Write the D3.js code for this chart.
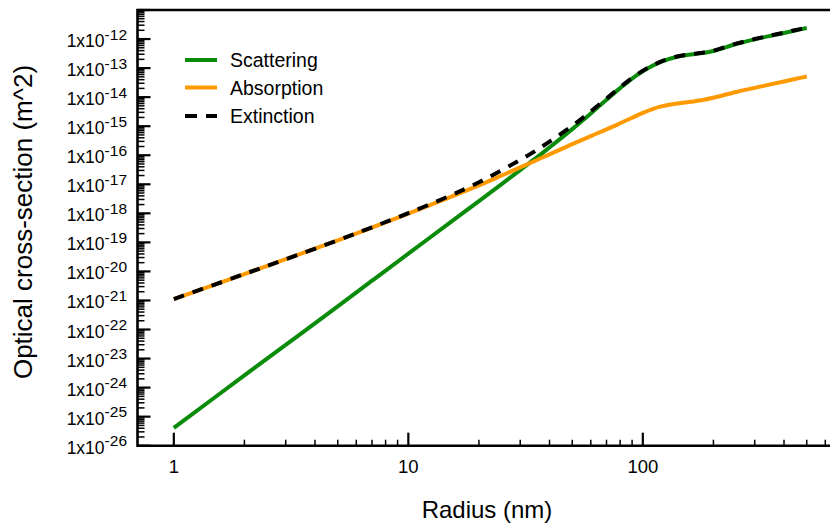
<!DOCTYPE html>
<html>
<head>
<meta charset="utf-8">
<script src="https://cdn.jsdelivr.net/npm/d3@7"></script>
<style>
  body { margin: 0; background: #fff; }
  svg { display: block; font-family: "Liberation Sans", Arial, Helvetica, sans-serif; }
</style>
</head>
<body>
<svg id="chart" width="830" height="528"></svg>
<script>
// radius (nm) and cross-sections (m^2)
const radius = [1, 2, 3, 5, 7, 10, 15, 20, 25, 30, 35, 40, 50, 60, 70, 80, 90, 100,
  110, 120, 140, 160, 180, 200, 250, 300, 350, 400, 450, 500];
const scattering = [4.1e-26, 2.63e-24, 2.95e-23, 6.31e-22, 4.79e-21, 4.07e-20, 4.68e-19, 2.63e-18,
  1.02e-17, 3.09e-17, 7.94e-17, 1.86e-16, 7.94e-16, 2.75e-15, 8.13e-15, 2.04e-14, 4.37e-14, 7.76e-14,
  1.2e-13, 1.66e-13, 2.45e-13, 2.95e-13, 3.31e-13, 3.89e-13, 6.76e-13, 9.77e-13, 1.29e-12,
  1.62e-12, 2.0e-12, 2.4e-12];
const absorption = [1.12e-21, 8.13e-21, 2.63e-20, 1.17e-19, 3.24e-19, 9.77e-19, 3.55e-18, 9.12e-18,
  2.0e-17, 3.8e-17, 6.61e-17, 1.07e-16, 2.4e-16, 4.57e-16, 7.76e-16, 1.26e-15, 1.95e-15, 2.88e-15,
  3.89e-15, 4.79e-15, 6.03e-15, 6.92e-15, 7.94e-15, 9.55e-15, 1.51e-14, 2.09e-14, 2.75e-14,
  3.47e-14, 4.27e-14, 5.13e-14];
const extinction = [1.12e-21, 8.13e-21, 2.63e-20, 1.17e-19, 3.31e-19, 1.02e-18, 3.98e-18, 1.17e-17,
  3.02e-17, 6.92e-17, 1.45e-16, 2.95e-16, 1.02e-15, 3.24e-15, 8.91e-15, 2.19e-14, 4.57e-14, 8.13e-14,
  1.23e-13, 1.7e-13, 2.51e-13, 3.02e-13, 3.39e-13, 3.98e-13, 6.92e-13, 1.0e-12, 1.32e-12,
  1.66e-12, 2.04e-12, 2.45e-12];

const seriesNames = ["Scattering", "Absorption", "Extinction"];
const xTickValues = [1, 10, 100];
const yExponents = d3.range(-26, -11); // -26 .. -12

const W = 830, H = 528;
const plotLeft = 137.5, plotTop = 10, plotBottom = 445.7;

const svg = d3.select("#chart");

// scales
const x = d3.scaleLog().domain([0.7, 700]).range([plotLeft, plotLeft + 3 * 234.5]);
const y = d3.scaleLog().domain([1e-26, 1e-11]).range([plotBottom, plotTop]);

const series = [
  { name: seriesNames[0], values: scattering, color: "#0a8c0a", dash: null },
  { name: seriesNames[1], values: absorption, color: "#ff9900", dash: null },
  { name: seriesNames[2], values: extinction, color: "#000", dash: "11,9" }
];

// y ticks (inside)
const yMinor = [];
yExponents.forEach((e) => {
  for (let k = 2; k <= 9; k++) yMinor.push(k * Math.pow(10, e));
});
const yMajor = yExponents.map((e) => Math.pow(10, e)).concat([1e-11]);

const axisG = svg.append("g").attr("stroke", "#000");
axisG.selectAll(".ymin").data(yMinor).join("line")
  .attr("x1", plotLeft).attr("x2", plotLeft + 7)
  .attr("y1", (d) => y(d)).attr("y2", (d) => y(d))
  .attr("stroke-width", 1.5);
axisG.selectAll(".ymaj").data(yMajor).join("line")
  .attr("x1", plotLeft).attr("x2", plotLeft + 13)
  .attr("y1", (d) => y(d)).attr("y2", (d) => y(d))
  .attr("stroke-width", 2.2);

// x ticks (inside)
const xMinor = [];
[0, 1, 2].forEach((e) => {
  for (let k = 2; k <= 9; k++) xMinor.push(k * Math.pow(10, e));
});
axisG.selectAll(".xmin").data(xMinor).join("line")
  .attr("x1", (d) => x(d)).attr("x2", (d) => x(d))
  .attr("y1", plotBottom).attr("y2", plotBottom - 6)
  .attr("stroke-width", 1.5);
axisG.selectAll(".xmaj").data(xTickValues).join("line")
  .attr("x1", (d) => x(d)).attr("x2", (d) => x(d))
  .attr("y1", plotBottom).attr("y2", plotBottom - 13)
  .attr("stroke-width", 2.2);

// frame: left, bottom, top (open on the right)
axisG.append("path")
  .attr("d", `M${W + 5},${plotTop}H${plotLeft}V${plotBottom}H${W + 5}`)
  .attr("fill", "none")
  .attr("stroke-width", 2.6);

// y tick labels 1x10^n
const yLab = svg.append("g").attr("font-size", 17.5).attr("fill", "#000");
yLab.selectAll("text").data(yExponents).join("text")
  .attr("x", 127)
  .attr("y", (e) => y(Math.pow(10, e)) + 8)
  .attr("text-anchor", "end")
  .each(function (e) {
    const t = d3.select(this);
    t.append("tspan").text("1x10");
    t.append("tspan").attr("dy", -7.5).attr("font-size", 15.5).text(e);
  });

// x tick labels
svg.append("g").attr("font-size", 18.5).attr("fill", "#000")
  .selectAll("text").data(xTickValues).join("text")
  .attr("x", (d) => x(d))
  .attr("y", 473)
  .attr("text-anchor", "middle")
  .text((d) => d);

// axis titles
svg.append("text")
  .attr("x", 487).attr("y", 518)
  .attr("text-anchor", "middle")
  .attr("font-size", 24)
  .attr("fill", "#000")
  .text("Radius (nm)");
svg.append("text")
  .attr("transform", "translate(32,222) rotate(-90)")
  .attr("text-anchor", "middle")
  .attr("font-size", 26)
  .attr("fill", "#000")
  .text("Optical cross-section (m^2)");

// curves
const line = d3.line()
  .x((d) => x(d[0]))
  .y((d) => y(d[1]))
  .curve(d3.curveCatmullRom.alpha(0.5));

svg.append("g").selectAll("path").data(series).join("path")
  .attr("d", (s) => line(radius.map((r, i) => [r, s.values[i]])))
  .attr("fill", "none")
  .attr("stroke", (s) => s.color)
  .attr("stroke-width", 4)
  .attr("stroke-dasharray", (s) => s.dash)
  .attr("stroke-linejoin", "round");

// legend
const legend = svg.append("g").attr("font-size", 19.5).attr("fill", "#000");
const rows = [60, 87.5, 116];
series.forEach((s, i) => {
  legend.append("line")
    .attr("x1", 185).attr("x2", 217)
    .attr("y1", rows[i]).attr("y2", rows[i])
    .attr("stroke", s.color)
    .attr("stroke-width", 4)
    .attr("stroke-dasharray", s.dash ? "12,9" : null);
  legend.append("text")
    .attr("x", 230).attr("y", rows[i] + 7)
    .text(s.name);
});
</script>
</body>
</html>
